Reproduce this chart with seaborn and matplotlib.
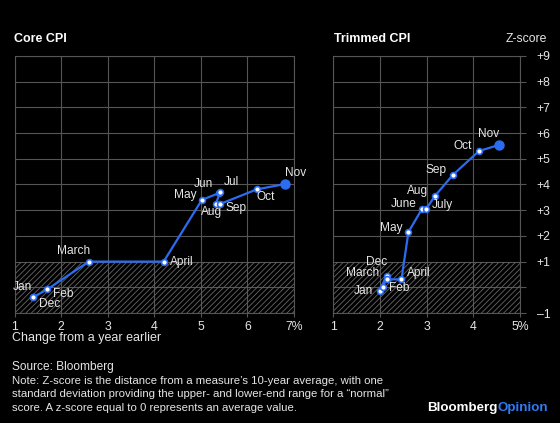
"""Core vs trimmed CPI z-score chart, Bloomberg Opinion style."""

import matplotlib
matplotlib.use("Agg")
import matplotlib.pyplot as plt
import seaborn as sns

# data (Dec 2020 .. Nov 2021)
core_months = ["Dec", "Jan", "Feb", "March", "April", "May", "Jun", "Jul",
               "Aug", "Sep", "Oct", "Nov"]
core_change = [1.39, 1.39, 1.70, 2.59, 4.20, 5.02, 5.38, 5.41, 5.32, 5.41, 6.20, 6.81]
core_z = [-0.39, -0.39, -0.08, 1.0, 1.0, 3.40, 3.66, 3.69, 3.24, 3.24, 3.81, 4.02]

trim_months = ["Dec", "Jan", "Feb", "March", "April", "May", "June", "July",
               "Aug", "Sep", "Oct", "Nov"]
trim_change = [2.14, 1.99, 2.06, 2.14, 2.46, 2.61, 2.90, 2.99, 3.18, 3.56, 4.12, 4.55]
trim_z = [0.44, -0.13, 0.02, 0.31, 0.31, 2.15, 3.05, 3.05, 3.56, 4.37, 5.30, 5.54]

core_xticks = [1, 2, 3, 4, 5, 6, 7]
core_xlabels = ["1", "2", "3", "4", "5", "6", "7%"]
trim_xticks = [1, 2, 3, 4, 5]
trim_xlabels = ["1", "2", "3", "4", "5%"]
z_ticks = [-1, 0, 1, 2, 3, 4, 5, 6, 7, 8, 9]
z_labels = ["\u20131", "", "+1", "+2", "+3", "+4", "+5", "+6", "+7", "+8", "+9"]

# label placement (pixel offsets, alignment) per month
core_label_pos = {
    "Dec": (6, -7, "left"), "Jan": (-1, 10, "right"), "Feb": (6, -5, "left"),
    "March": (1, 11, "right"), "April": (6, 0, "left"), "May": (-5, 5, "right"),
    "Jun": (-6, 9, "right"), "Jul": (4, 10, "left"), "Aug": (-4, -8, "center"),
    "Sep": (6, -4, "left"), "Oct": (0, -8, "left"), "Nov": (0, 11, "left"),
}
trim_label_pos = {
    "Dec": (1, 14, "right"), "Jan": (-6, 0, "right"), "Feb": (6, -1, "left"),
    "March": (-7, 6, "right"), "April": (6, 6, "left"), "May": (-6, 4, "right"),
    "June": (-5, 5, "right"), "July": (6, 4, "left"), "Aug": (-7, 5, "right"),
    "Sep": (-6, 5, "right"), "Oct": (-7, 5, "right"), "Nov": (0, 11, "right"),
}

BLUE = "#2b6cf0"
GRID = "#555555"
TEXT = "#e6e6e6"

sns.set_theme(style="dark", rc={
    "figure.facecolor": "black", "axes.facecolor": "black",
    "axes.edgecolor": GRID, "grid.color": GRID,
    "text.color": TEXT, "xtick.color": TEXT, "ytick.color": TEXT,
    "hatch.linewidth": 0.6,
})
plt.rcParams["font.family"] = ["Liberation Sans", "DejaVu Sans"]

fig = plt.figure(figsize=(5.6, 4.23), dpi=100)
ax1 = fig.add_axes([14.7 / 560, 110 / 423, 279.3 / 560, 257 / 423])
ax2 = fig.add_axes([333.3 / 560, 110 / 423, 186.7 / 560, 257 / 423])


def draw_panel(ax, xs, zs, months, label_pos, xticks, xlabels, xlim):
    ax.axhspan(-1, 1, facecolor="none", edgecolor="#666666", hatch="//////",
               linewidth=0, zorder=1)
    sns.lineplot(x=xs, y=zs, sort=False, estimator=None, color=BLUE, lw=1.6,
                 marker="o", markersize=4.2, markerfacecolor="white",
                 markeredgecolor=BLUE, markeredgewidth=1.2, ax=ax, zorder=3)
    ax.plot(xs[-1], zs[-1], "o", color=BLUE, markersize=6.5, zorder=4)
    for m, x, z in zip(months, xs, zs):
        dx, dy, ha = label_pos[m]
        ax.annotate(m, (x, z), xytext=(dx, dy), textcoords="offset pixels",
                    ha=ha, va="center", fontsize=8.6, color=TEXT, zorder=5)
    ax.set_xlim(*xlim)
    ax.set_ylim(-1, 9)
    ax.set_xticks(xticks)
    ax.set_xticklabels(xlabels)
    ax.set_yticks(z_ticks)
    ax.grid(True, color=GRID, lw=0.8)
    ax.tick_params(axis="x", length=3, width=0.8, color=GRID, pad=2.5,
                   labelsize=8.8, bottom=True)
    for s in ax.spines.values():
        s.set_color(GRID)
        s.set_linewidth(0.8)
    ax.set_xlabel("")
    ax.set_ylabel("")


draw_panel(ax1, core_change, core_z, core_months, core_label_pos,
           core_xticks, core_xlabels, (1, 7))
ax1.set_yticklabels([])
ax1.tick_params(axis="y", length=0)

draw_panel(ax2, trim_change, trim_z, trim_months, trim_label_pos,
           trim_xticks, trim_xlabels, (1, 5))
ax2.yaxis.tick_right()
ax2.set_yticklabels(z_labels)
ax2.tick_params(axis="y", right=True, left=False, length=4, width=0.8,
                color=GRID, pad=8, labelsize=8.8)

# titles and notes
fig.text(14 / 560, 1 - 39 / 423, "Core CPI", fontsize=9, fontweight="bold",
         color="white", va="center")
fig.text(334 / 560, 1 - 39 / 423, "Trimmed CPI", fontsize=9, fontweight="bold",
         color="white", va="center")
fig.text(547 / 560, 1 - 39 / 423, "Z-score", fontsize=8.8, color=TEXT,
         ha="right", va="center")
fig.text(12 / 560, 1 - 338 / 423, "Change from a year earlier", fontsize=9,
         color=TEXT, va="center")
fig.text(12 / 560, 1 - 367 / 423, "Source: Bloomberg", fontsize=8.6,
         color=TEXT, va="center")
note_lines = [
    "Note: Z-score is the distance from a measure\u2019s 10-year average, with one",
    "standard deviation providing the upper- and lower-end range for a \u201cnormal\u201d",
    "score. A z-score equal to 0 represents an average value.",
]
for i, line in enumerate(note_lines):
    fig.text(12 / 560, 1 - (380.5 + 13.5 * i) / 423, line, fontsize=8.2,
             color=TEXT, va="center")

opinion = fig.text(548 / 560, 1 - 408 / 423, "Opinion", fontsize=9.6,
                   fontweight="bold", color="#2f7bf5", ha="right", va="center")
fig.canvas.draw()
bb = opinion.get_window_extent()
fig.text(bb.x0 / fig.bbox.width, 1 - 408 / 423, "Bloomberg", fontsize=9.6,
         fontweight="bold", color="white", ha="right", va="center")

plt.savefig("out.png", dpi=100, facecolor="black")
plt.close(fig)
